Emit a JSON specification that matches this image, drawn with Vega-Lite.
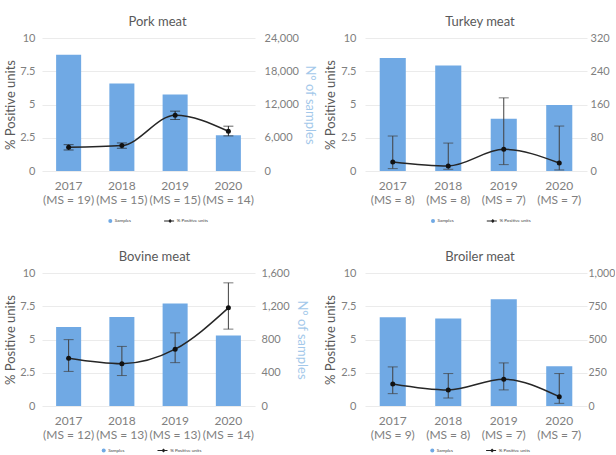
{
  "$schema": "https://vega.github.io/schema/vega-lite/v6.json",
  "padding": {"left": 4, "top": 16, "right": 0, "bottom": 0},
  "config": {
    "font": "Lato",
    "view": {"stroke": null},
    "title": {"fontSize": 13, "fontWeight": "normal", "color": "#595959", "offset": 3},
    "axis": {"labelColor": "#808080", "titleColor": "#595959", "titleFontWeight": "normal", "labelFont": "Lato", "titleFont": "Lato", "labelOverlap": false, "labelFlush": false},
    "axisX": {"title": null, "labelAngle": 0, "ticks": false, "domain": false, "labelFontSize": 12, "labelLineHeight": 14, "labelPadding": 9},
    "legend": {"labelFont": "Lato"}
  },
  "datasets": {
    "pork": [
      {"period": "2017|(MS = 19)", "samples": 21000, "pct": 1.78, "lo": 1.58, "hi": 1.98},
      {"period": "2018|(MS = 15)", "samples": 15800, "pct": 1.91, "lo": 1.71, "hi": 2.11},
      {"period": "2019|(MS = 15)", "samples": 13800, "pct": 4.2, "lo": 3.87, "hi": 4.5},
      {"period": "2020|(MS = 14)", "samples": 6450, "pct": 2.99, "lo": 2.64, "hi": 3.37}
    ],
    "turkey": [
      {"period": "2017|(MS = 8)", "samples": 272, "pct": 0.68, "lo": 0.18, "hi": 2.63},
      {"period": "2018|(MS = 8)", "samples": 254, "pct": 0.38, "lo": 0.13, "hi": 2.1},
      {"period": "2019|(MS = 7)", "samples": 126, "pct": 1.63, "lo": 0.48, "hi": 5.5},
      {"period": "2020|(MS = 7)", "samples": 159, "pct": 0.6, "lo": 0.08, "hi": 3.38}
    ],
    "bovine": [
      {"period": "2017|(MS = 12)", "samples": 949, "pct": 3.59, "lo": 2.6, "hi": 4.99},
      {"period": "2018|(MS = 13)", "samples": 1071, "pct": 3.18, "lo": 2.29, "hi": 4.48},
      {"period": "2019|(MS = 13)", "samples": 1234, "pct": 4.27, "lo": 3.26, "hi": 5.5},
      {"period": "2020|(MS = 14)", "samples": 847, "pct": 7.38, "lo": 5.78, "hi": 9.26}
    ],
    "broiler": [
      {"period": "2017|(MS = 9)", "samples": 668, "pct": 1.66, "lo": 0.93, "hi": 2.94},
      {"period": "2018|(MS = 8)", "samples": 658, "pct": 1.21, "lo": 0.6, "hi": 2.44},
      {"period": "2019|(MS = 7)", "samples": 802, "pct": 2.01, "lo": 1.21, "hi": 3.24},
      {"period": "2020|(MS = 7)", "samples": 299, "pct": 0.7, "lo": 0.2, "hi": 2.44}
    ],
    "legend": [
      {"series": "Samples"},
      {"series": "% Positive units"}
    ]
  },
  "columns": 2,
  "spacing": {"column": 110, "row": 102},
  "bounds": "flush",
  "resolve": {
    "scale": {"color": "independent", "shape": "independent"},
    "legend": {"color": "independent", "shape": "independent"}
  },
  "concat": [
    {
      "width": 213, "height": 133,
      "title": {"text": "Pork meat", "dx": 9},
      "data": {"name": "pork"},
      "layer": [
        {
          "mark": {"type": "bar", "color": "#70a9e4"},
          "encoding": {
            "x": {"field": "period", "type": "nominal", "sort": null, "scale": {"paddingInner": 0.53, "paddingOuter": 0.265}, "axis": {"labelExpr": "split(datum.label, '|')"}},
            "y": {"field": "samples", "type": "quantitative", "scale": {"domain": [0, 24000]}, "axis": {"orient": "right", "values": [0, 6000, 12000, 18000, 24000], "format": ",d", "grid": false, "ticks": false, "domain": false, "labelOverlap": false, "labelFontSize": 11, "labelPadding": 9, "title": "N° of samples", "titleColor": "#a3c8ea", "titleFontSize": 13, "titlePadding": 4}}
          }
        },
        {
          "encoding": {
            "x": {"field": "period", "type": "nominal", "sort": null, "scale": {"paddingInner": 0.53, "paddingOuter": 0.265}, "axis": {"labelExpr": "split(datum.label, '|')"}}
          },
          "layer": [
            {
              "mark": {"type": "line", "interpolate": "monotone", "color": "#262626", "strokeWidth": 1.5},
              "encoding": {
                "y": {"field": "pct", "type": "quantitative", "scale": {"domain": [0, 10]}, "axis": {"orient": "left", "values": [0, 2.5, 5, 7.5, 10], "format": ".2~f", "labelOverlap": false, "grid": true, "gridColor": "#ebebeb", "ticks": false, "domain": false, "labelFontSize": 11, "labelPadding": 7, "title": "% Positive units", "titleFontSize": 13, "titlePadding": 2}}
              }
            },
            {
              "mark": {"type": "rule", "color": "#222", "strokeWidth": 1},
              "encoding": {
                "y": {"field": "lo", "type": "quantitative", "scale": {"domain": [0, 10]}, "axis": {"orient": "left", "values": [0, 2.5, 5, 7.5, 10], "format": ".2~f", "labelOverlap": false, "grid": true, "gridColor": "#ebebeb", "ticks": false, "domain": false, "labelFontSize": 11, "labelPadding": 7, "title": "% Positive units", "titleFontSize": 13, "titlePadding": 2}},
                "y2": {"field": "hi"}
              }
            },
            {
              "mark": {"type": "tick", "color": "#222", "size": 10, "thickness": 1},
              "encoding": {
                "y": {"field": "lo", "type": "quantitative", "scale": {"domain": [0, 10]}, "axis": {"orient": "left", "values": [0, 2.5, 5, 7.5, 10], "format": ".2~f", "labelOverlap": false, "grid": true, "gridColor": "#ebebeb", "ticks": false, "domain": false, "labelFontSize": 11, "labelPadding": 7, "title": "% Positive units", "titleFontSize": 13, "titlePadding": 2}}
              }
            },
            {
              "mark": {"type": "tick", "color": "#222", "size": 10, "thickness": 1},
              "encoding": {
                "y": {"field": "hi", "type": "quantitative", "scale": {"domain": [0, 10]}, "axis": {"orient": "left", "values": [0, 2.5, 5, 7.5, 10], "format": ".2~f", "labelOverlap": false, "grid": true, "gridColor": "#ebebeb", "ticks": false, "domain": false, "labelFontSize": 11, "labelPadding": 7, "title": "% Positive units", "titleFontSize": 13, "titlePadding": 2}}
              }
            },
            {
              "mark": {"type": "point", "filled": true, "size": 25, "color": "#111", "opacity": 1},
              "encoding": {
                "y": {"field": "pct", "type": "quantitative", "scale": {"domain": [0, 10]}, "axis": {"orient": "left", "values": [0, 2.5, 5, 7.5, 10], "format": ".2~f", "labelOverlap": false, "grid": true, "gridColor": "#ebebeb", "ticks": false, "domain": false, "labelFontSize": 11, "labelPadding": 7, "title": "% Positive units", "titleFontSize": 13, "titlePadding": 2}}
              }
            }
          ]
        },
        {
          "data": {"name": "legend"},
          "transform": [{"filter": "datum.series == null"}],
          "mark": {"type": "point", "filled": true, "opacity": 1},
          "encoding": {
            "color": {"field": "series", "type": "nominal", "scale": {"domain": ["Samples", "% Positive units"], "range": ["#70a9e4", "#222222"]}, "legend": {"orient": "none", "legendX": 65.3, "legendY": 180, "direction": "horizontal", "title": null, "labelFontSize": 4.5, "labelColor": "#404040", "symbolSize": 16, "symbolOpacity": 1, "labelOffset": 1.5, "columnPadding": 29, "padding": 0}},
            "shape": {"field": "series", "type": "nominal", "scale": {"domain": ["Samples", "% Positive units"], "range": ["circle", "M-4.1,-0.25L0.9,-0.25L0.9,0.25L-4.1,0.25ZM-1.1,-1L-0.1,0L-1.1,1L-2.1,0Z"]}}
          }
        }
      ],
      "resolve": {"scale": {"y": "independent"}}
    },
    {
      "width": 222, "height": 133,
      "title": {"text": "Turkey meat", "dx": 4},
      "data": {"name": "turkey"},
      "layer": [
        {
          "mark": {"type": "bar", "color": "#70a9e4"},
          "encoding": {
            "x": {"field": "period", "type": "nominal", "sort": null, "scale": {"paddingInner": 0.53, "paddingOuter": 0.265}, "axis": {"labelExpr": "split(datum.label, '|')"}},
            "y": {"field": "samples", "type": "quantitative", "scale": {"domain": [0, 320]}, "axis": {"orient": "right", "values": [0, 80, 160, 240, 320], "format": ",d", "grid": false, "ticks": false, "domain": false, "labelOverlap": false, "labelFontSize": 11, "labelPadding": 3, "title": null}}
          }
        },
        {
          "encoding": {
            "x": {"field": "period", "type": "nominal", "sort": null, "scale": {"paddingInner": 0.53, "paddingOuter": 0.265}, "axis": {"labelExpr": "split(datum.label, '|')"}}
          },
          "layer": [
            {
              "mark": {"type": "line", "interpolate": "monotone", "color": "#262626", "strokeWidth": 1.5},
              "encoding": {
                "y": {"field": "pct", "type": "quantitative", "scale": {"domain": [0, 10]}, "axis": {"orient": "left", "values": [0, 2.5, 5, 7.5, 10], "format": ".2~f", "labelOverlap": false, "grid": true, "gridColor": "#ebebeb", "ticks": false, "domain": false, "labelFontSize": 11, "labelPadding": 9, "title": "% Positive units", "titleFontSize": 13, "titlePadding": 3}}
              }
            },
            {
              "mark": {"type": "rule", "color": "#404040", "strokeWidth": 1},
              "encoding": {
                "y": {"field": "lo", "type": "quantitative", "scale": {"domain": [0, 10]}, "axis": {"orient": "left", "values": [0, 2.5, 5, 7.5, 10], "format": ".2~f", "labelOverlap": false, "grid": true, "gridColor": "#ebebeb", "ticks": false, "domain": false, "labelFontSize": 11, "labelPadding": 9, "title": "% Positive units", "titleFontSize": 13, "titlePadding": 3}},
                "y2": {"field": "hi"}
              }
            },
            {
              "mark": {"type": "tick", "color": "#404040", "size": 10, "thickness": 1},
              "encoding": {
                "y": {"field": "lo", "type": "quantitative", "scale": {"domain": [0, 10]}, "axis": {"orient": "left", "values": [0, 2.5, 5, 7.5, 10], "format": ".2~f", "labelOverlap": false, "grid": true, "gridColor": "#ebebeb", "ticks": false, "domain": false, "labelFontSize": 11, "labelPadding": 9, "title": "% Positive units", "titleFontSize": 13, "titlePadding": 3}}
              }
            },
            {
              "mark": {"type": "tick", "color": "#404040", "size": 10, "thickness": 1},
              "encoding": {
                "y": {"field": "hi", "type": "quantitative", "scale": {"domain": [0, 10]}, "axis": {"orient": "left", "values": [0, 2.5, 5, 7.5, 10], "format": ".2~f", "labelOverlap": false, "grid": true, "gridColor": "#ebebeb", "ticks": false, "domain": false, "labelFontSize": 11, "labelPadding": 9, "title": "% Positive units", "titleFontSize": 13, "titlePadding": 3}}
              }
            },
            {
              "mark": {"type": "point", "filled": true, "size": 25, "color": "#111", "opacity": 1},
              "encoding": {
                "y": {"field": "pct", "type": "quantitative", "scale": {"domain": [0, 10]}, "axis": {"orient": "left", "values": [0, 2.5, 5, 7.5, 10], "format": ".2~f", "labelOverlap": false, "grid": true, "gridColor": "#ebebeb", "ticks": false, "domain": false, "labelFontSize": 11, "labelPadding": 9, "title": "% Positive units", "titleFontSize": 13, "titlePadding": 3}}
              }
            }
          ]
        },
        {
          "data": {"name": "legend"},
          "transform": [{"filter": "datum.series == null"}],
          "mark": {"type": "point", "filled": true, "opacity": 1},
          "encoding": {
            "color": {"field": "series", "type": "nominal", "scale": {"domain": ["Samples", "% Positive units"], "range": ["#70a9e4", "#222222"]}, "legend": {"orient": "none", "legendX": 65, "legendY": 180, "direction": "horizontal", "title": null, "labelFontSize": 4.5, "labelColor": "#404040", "symbolSize": 16, "symbolOpacity": 1, "labelOffset": 1.5, "columnPadding": 29, "padding": 0}},
            "shape": {"field": "series", "type": "nominal", "scale": {"domain": ["Samples", "% Positive units"], "range": ["circle", "M-4.1,-0.25L0.9,-0.25L0.9,0.25L-4.1,0.25ZM-1.1,-1L-0.1,0L-1.1,1L-2.1,0Z"]}}
          }
        }
      ],
      "resolve": {"scale": {"y": "independent"}}
    },
    {
      "width": 213, "height": 133,
      "title": {"text": "Bovine meat", "dx": 6},
      "data": {"name": "bovine"},
      "layer": [
        {
          "mark": {"type": "bar", "color": "#70a9e4"},
          "encoding": {
            "x": {"field": "period", "type": "nominal", "sort": null, "scale": {"paddingInner": 0.53, "paddingOuter": 0.265}, "axis": {"labelExpr": "split(datum.label, '|')"}},
            "y": {"field": "samples", "type": "quantitative", "scale": {"domain": [0, 1600]}, "axis": {"orient": "right", "values": [0, 400, 800, 1200, 1600], "format": ",d", "grid": false, "ticks": false, "domain": false, "labelOverlap": false, "labelFontSize": 11, "labelPadding": 6, "title": "N° of samples", "titleColor": "#a3c8ea", "titleFontSize": 13, "titlePadding": 5}}
          }
        },
        {
          "encoding": {
            "x": {"field": "period", "type": "nominal", "sort": null, "scale": {"paddingInner": 0.53, "paddingOuter": 0.265}, "axis": {"labelExpr": "split(datum.label, '|')"}}
          },
          "layer": [
            {
              "mark": {"type": "line", "interpolate": "monotone", "color": "#262626", "strokeWidth": 1.5},
              "encoding": {
                "y": {"field": "pct", "type": "quantitative", "scale": {"domain": [0, 10]}, "axis": {"orient": "left", "values": [0, 2.5, 5, 7.5, 10], "format": ".2~f", "labelOverlap": false, "grid": true, "gridColor": "#ebebeb", "ticks": false, "domain": false, "labelFontSize": 11, "labelPadding": 7, "title": "% Positive units", "titleFontSize": 13, "titlePadding": 2}}
              }
            },
            {
              "mark": {"type": "rule", "color": "#404040", "strokeWidth": 1},
              "encoding": {
                "y": {"field": "lo", "type": "quantitative", "scale": {"domain": [0, 10]}, "axis": {"orient": "left", "values": [0, 2.5, 5, 7.5, 10], "format": ".2~f", "labelOverlap": false, "grid": true, "gridColor": "#ebebeb", "ticks": false, "domain": false, "labelFontSize": 11, "labelPadding": 7, "title": "% Positive units", "titleFontSize": 13, "titlePadding": 2}},
                "y2": {"field": "hi"}
              }
            },
            {
              "mark": {"type": "tick", "color": "#404040", "size": 10, "thickness": 1},
              "encoding": {
                "y": {"field": "lo", "type": "quantitative", "scale": {"domain": [0, 10]}, "axis": {"orient": "left", "values": [0, 2.5, 5, 7.5, 10], "format": ".2~f", "labelOverlap": false, "grid": true, "gridColor": "#ebebeb", "ticks": false, "domain": false, "labelFontSize": 11, "labelPadding": 7, "title": "% Positive units", "titleFontSize": 13, "titlePadding": 2}}
              }
            },
            {
              "mark": {"type": "tick", "color": "#404040", "size": 10, "thickness": 1},
              "encoding": {
                "y": {"field": "hi", "type": "quantitative", "scale": {"domain": [0, 10]}, "axis": {"orient": "left", "values": [0, 2.5, 5, 7.5, 10], "format": ".2~f", "labelOverlap": false, "grid": true, "gridColor": "#ebebeb", "ticks": false, "domain": false, "labelFontSize": 11, "labelPadding": 7, "title": "% Positive units", "titleFontSize": 13, "titlePadding": 2}}
              }
            },
            {
              "mark": {"type": "point", "filled": true, "size": 25, "color": "#111", "opacity": 1},
              "encoding": {
                "y": {"field": "pct", "type": "quantitative", "scale": {"domain": [0, 10]}, "axis": {"orient": "left", "values": [0, 2.5, 5, 7.5, 10], "format": ".2~f", "labelOverlap": false, "grid": true, "gridColor": "#ebebeb", "ticks": false, "domain": false, "labelFontSize": 11, "labelPadding": 7, "title": "% Positive units", "titleFontSize": 13, "titlePadding": 2}}
              }
            }
          ]
        },
        {
          "data": {"name": "legend"},
          "transform": [{"filter": "datum.series == null"}],
          "mark": {"type": "point", "filled": true, "opacity": 1},
          "encoding": {
            "color": {"field": "series", "type": "nominal", "scale": {"domain": ["Samples", "% Positive units"], "range": ["#70a9e4", "#222222"]}, "legend": {"orient": "none", "legendX": 58.7, "legendY": 174.5, "direction": "horizontal", "title": null, "labelFontSize": 4.5, "labelColor": "#404040", "symbolSize": 16, "symbolOpacity": 1, "labelOffset": 1.5, "columnPadding": 29, "padding": 0}},
            "shape": {"field": "series", "type": "nominal", "scale": {"domain": ["Samples", "% Positive units"], "range": ["circle", "M-4.1,-0.25L0.9,-0.25L0.9,0.25L-4.1,0.25ZM-1.1,-1L-0.1,0L-1.1,1L-2.1,0Z"]}}
          }
        }
      ],
      "resolve": {"scale": {"y": "independent"}}
    },
    {
      "width": 222, "height": 133,
      "title": {"text": "Broiler meat", "dx": 4},
      "data": {"name": "broiler"},
      "layer": [
        {
          "mark": {"type": "bar", "color": "#70a9e4"},
          "encoding": {
            "x": {"field": "period", "type": "nominal", "sort": null, "scale": {"paddingInner": 0.53, "paddingOuter": 0.265}, "axis": {"labelExpr": "split(datum.label, '|')"}},
            "y": {"field": "samples", "type": "quantitative", "scale": {"domain": [0, 1000]}, "axis": {"orient": "right", "values": [0, 250, 500, 750, 1000], "format": ",d", "grid": false, "ticks": false, "domain": false, "labelOverlap": false, "labelFontSize": 10.5, "labelPadding": 1, "title": null}}
          }
        },
        {
          "encoding": {
            "x": {"field": "period", "type": "nominal", "sort": null, "scale": {"paddingInner": 0.53, "paddingOuter": 0.265}, "axis": {"labelExpr": "split(datum.label, '|')"}}
          },
          "layer": [
            {
              "mark": {"type": "line", "interpolate": "monotone", "color": "#262626", "strokeWidth": 1.5},
              "encoding": {
                "y": {"field": "pct", "type": "quantitative", "scale": {"domain": [0, 10]}, "axis": {"orient": "left", "values": [0, 2.5, 5, 7.5, 10], "format": ".2~f", "labelOverlap": false, "grid": true, "gridColor": "#ebebeb", "ticks": false, "domain": false, "labelFontSize": 11, "labelPadding": 9, "title": "% Positive units", "titleFontSize": 13, "titlePadding": 3}}
              }
            },
            {
              "mark": {"type": "rule", "color": "#404040", "strokeWidth": 1},
              "encoding": {
                "y": {"field": "lo", "type": "quantitative", "scale": {"domain": [0, 10]}, "axis": {"orient": "left", "values": [0, 2.5, 5, 7.5, 10], "format": ".2~f", "labelOverlap": false, "grid": true, "gridColor": "#ebebeb", "ticks": false, "domain": false, "labelFontSize": 11, "labelPadding": 9, "title": "% Positive units", "titleFontSize": 13, "titlePadding": 3}},
                "y2": {"field": "hi"}
              }
            },
            {
              "mark": {"type": "tick", "color": "#404040", "size": 10, "thickness": 1},
              "encoding": {
                "y": {"field": "lo", "type": "quantitative", "scale": {"domain": [0, 10]}, "axis": {"orient": "left", "values": [0, 2.5, 5, 7.5, 10], "format": ".2~f", "labelOverlap": false, "grid": true, "gridColor": "#ebebeb", "ticks": false, "domain": false, "labelFontSize": 11, "labelPadding": 9, "title": "% Positive units", "titleFontSize": 13, "titlePadding": 3}}
              }
            },
            {
              "mark": {"type": "tick", "color": "#404040", "size": 10, "thickness": 1},
              "encoding": {
                "y": {"field": "hi", "type": "quantitative", "scale": {"domain": [0, 10]}, "axis": {"orient": "left", "values": [0, 2.5, 5, 7.5, 10], "format": ".2~f", "labelOverlap": false, "grid": true, "gridColor": "#ebebeb", "ticks": false, "domain": false, "labelFontSize": 11, "labelPadding": 9, "title": "% Positive units", "titleFontSize": 13, "titlePadding": 3}}
              }
            },
            {
              "mark": {"type": "point", "filled": true, "size": 25, "color": "#111", "opacity": 1},
              "encoding": {
                "y": {"field": "pct", "type": "quantitative", "scale": {"domain": [0, 10]}, "axis": {"orient": "left", "values": [0, 2.5, 5, 7.5, 10], "format": ".2~f", "labelOverlap": false, "grid": true, "gridColor": "#ebebeb", "ticks": false, "domain": false, "labelFontSize": 11, "labelPadding": 9, "title": "% Positive units", "titleFontSize": 13, "titlePadding": 3}}
              }
            }
          ]
        },
        {
          "data": {"name": "legend"},
          "transform": [{"filter": "datum.series == null"}],
          "mark": {"type": "point", "filled": true, "opacity": 1},
          "encoding": {
            "color": {"field": "series", "type": "nominal", "scale": {"domain": ["Samples", "% Positive units"], "range": ["#70a9e4", "#222222"]}, "legend": {"orient": "none", "legendX": 64.3, "legendY": 174.5, "direction": "horizontal", "title": null, "labelFontSize": 4.5, "labelColor": "#404040", "symbolSize": 16, "symbolOpacity": 1, "labelOffset": 1.5, "columnPadding": 29, "padding": 0}},
            "shape": {"field": "series", "type": "nominal", "scale": {"domain": ["Samples", "% Positive units"], "range": ["circle", "M-4.1,-0.25L0.9,-0.25L0.9,0.25L-4.1,0.25ZM-1.1,-1L-0.1,0L-1.1,1L-2.1,0Z"]}}
          }
        }
      ],
      "resolve": {"scale": {"y": "independent"}}
    }
  ]
}
